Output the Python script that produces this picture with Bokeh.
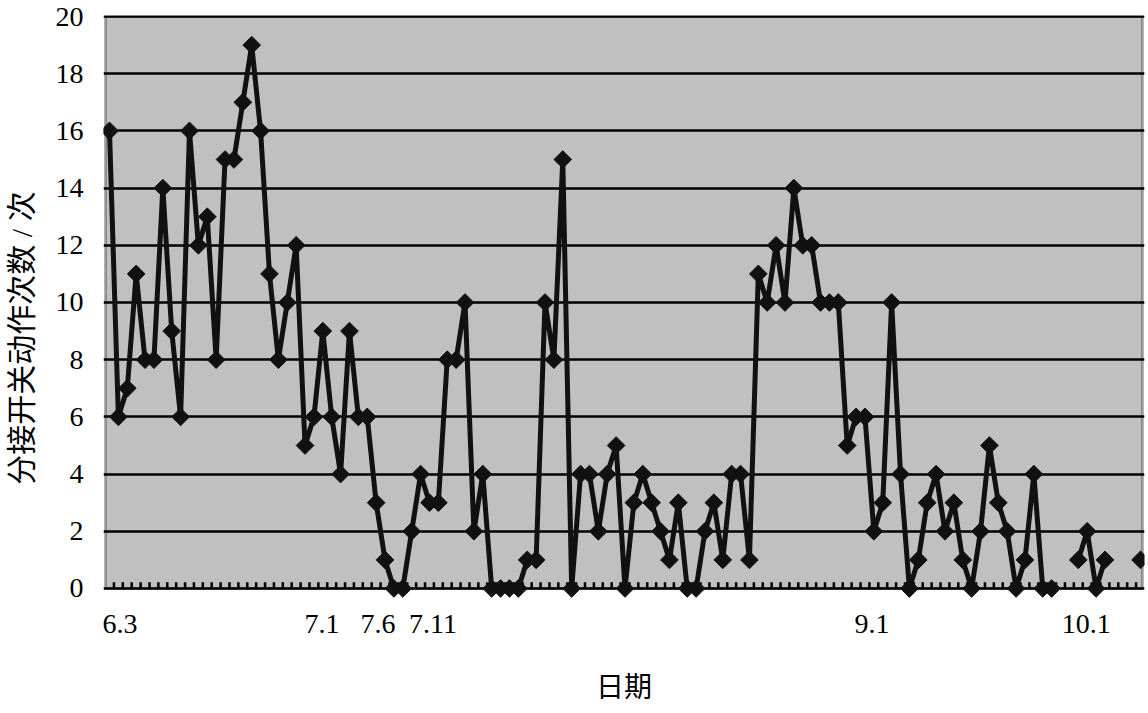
import numpy as np
from bokeh.plotting import figure
from bokeh.models import Range1d, FixedTicker, BoxAnnotation, ColumnDataSource
from bokeh.embed import file_html
from bokeh.resources import INLINE

# ---- data ----
counts = [16, 6, 7, 11, 8, 8, 14, 9, 6, 16,
          12, 13, 8, 15, 15, 17, 19, 16, 11, 8,
          10, 12, 5, 6, 9, 6, 4, 9, 6, 6,
          3, 1, 0, 0, 2, 4, 3, 3, 8, 8,
          10, 2, 4, 0, 0, 0, 0, 1, 1, 10,
          8, 15, 0, 4, 4, 2, 4, 5, 0, 3,
          4, 3, 2, 1, 3, 0, 0, 2, 3, 1,
          4, 4, 1, 11, 10, 12, 10, 14, 12, 12,
          10, 10, 10, 5, 6, 6, 2, 3, 10, 4,
          0, 1, 3, 4, 2, 3, 1, 0, 2, 5,
          3, 2, 0, 1, 4, 0, 0, None, None, 1,
          2, 0, 1, None, None, None, 1]
tick_labels = ["6.3", "7.1", "7.6", "7.11", "9.1", "10.1"]
tick_positions = [1.18, 23.9, 30.2, 36.4, 85.8, 109.9]
y_ticks = [0, 2, 4, 6, 8, 10, 12, 14, 16, 18, 20]
x_title = "日期"
y_title = "分接开关动作次数 / 次"

TITLE_FONT = "Liberation Serif, Noto Sans CJK SC"

n = len(counts)
xs = np.arange(n, dtype=float)
ys = np.array([np.nan if v is None else v for v in counts], dtype=float)
src = ColumnDataSource(data=dict(x=xs, y=ys))

p = figure(width=1146, height=713,
           x_range=Range1d(-0.675, n - 1 + 0.45),
           y_range=Range1d(-0.42, 20.035),
           output_backend="svg", toolbar_location=None,
           min_border_left=103, min_border_right=2,
           min_border_top=15, min_border_bottom=113)
p.background_fill_color = "white"
p.border_fill_color = "white"
p.outline_line_color = None

# gray plot area with black frame
box = BoxAnnotation(left=-0.45, right=n - 1 + 0.22, bottom=0, top=20,
                    fill_color="#C0C0C0", fill_alpha=1.0,
                    line_color="black", line_width=3, level="image")
p.add_layout(box)

# grid
p.xgrid.visible = False
p.ygrid.ticker = FixedTicker(ticks=y_ticks)
p.ygrid.grid_line_color = "black"
p.ygrid.grid_line_width = 2.5

# y axis
p.yaxis.ticker = FixedTicker(ticks=y_ticks)
p.yaxis.axis_line_color = None
p.yaxis.major_tick_in = 0
p.yaxis.major_tick_out = 0
p.yaxis.major_label_text_font = "Liberation Serif"
p.yaxis.major_label_text_font_size = "28px"
p.yaxis.major_label_text_color = "black"
p.yaxis.major_label_standoff = 20
# trailing ideographic spaces push the (centred) title a little lower, as in the reference
p.yaxis.axis_label = y_title + "\u3000\u3000"
p.yaxis.axis_label_text_font = TITLE_FONT
p.yaxis.axis_label_text_font_size = "30px"
p.yaxis.axis_label_text_font_style = "normal"
p.yaxis.axis_label_text_color = "black"
p.yaxis.axis_label_text_line_height = 1.0
p.yaxis.axis_label_standoff = 15

# x axis
p.xaxis.ticker = FixedTicker(ticks=tick_positions)
p.xaxis.major_label_overrides = {float(pos): lab for pos, lab in zip(tick_positions, tick_labels)}
p.xaxis.axis_line_color = None
p.xaxis.major_tick_in = 0
p.xaxis.major_tick_out = 0
p.xaxis.major_label_text_font = "Liberation Serif"
p.xaxis.major_label_text_font_size = "28px"
p.xaxis.major_label_text_color = "black"
p.xaxis.major_label_standoff = 14
p.xaxis.axis_label = x_title
p.xaxis.axis_label_text_font = TITLE_FONT
p.xaxis.axis_label_text_font_size = "28px"
p.xaxis.axis_label_text_font_style = "normal"
p.xaxis.axis_label_text_color = "black"
p.xaxis.axis_label_text_line_height = 1.0
p.xaxis.axis_label_standoff = 36

# small category tick marks on the bottom edge (between categories)
tick_x = xs[:-1] + 0.5
p.segment(x0=tick_x, y0=np.zeros(len(tick_x)), x1=tick_x, y1=np.full(len(tick_x), 0.22),
          line_color="black", line_width=2.5)

# series
p.line("x", "y", source=src, line_color="#111111", line_width=5)
p.scatter("x", "y", source=src, marker="square", size=12.5, angle=np.pi / 4,
          fill_color="#111111", line_color="#111111", line_width=1)

open("out.html", "w").write(file_html(p, INLINE))
